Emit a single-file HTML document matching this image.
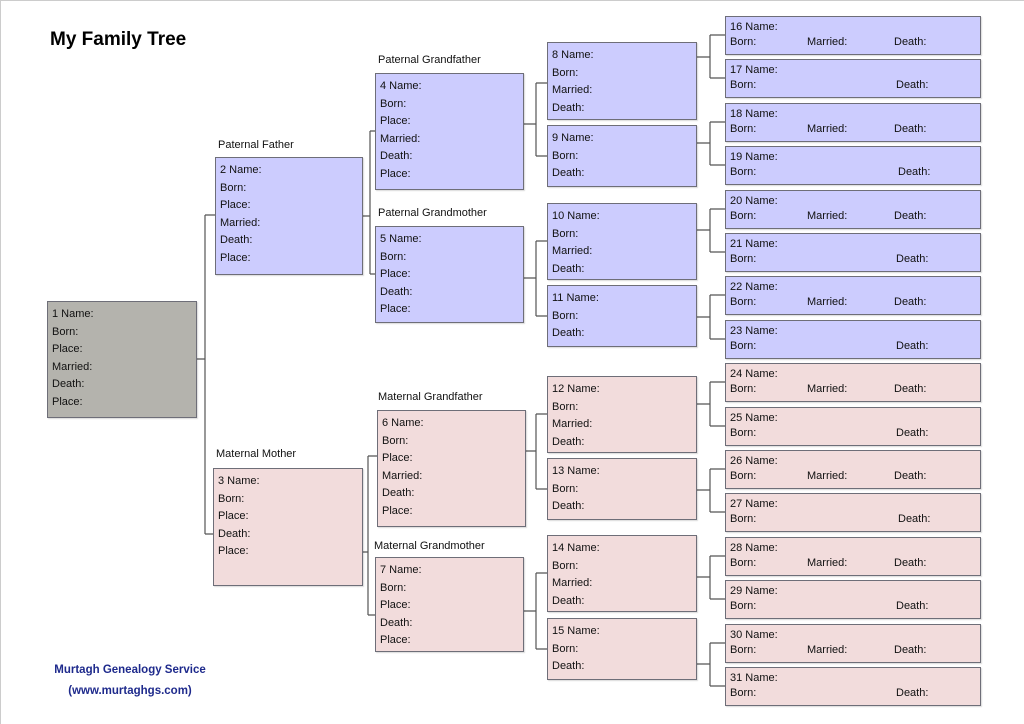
<!DOCTYPE html>
<html><head><meta charset="utf-8"><style>
html,body{margin:0;padding:0;background:#fff;}
#pg{position:relative;width:1024px;height:724px;overflow:hidden;font-family:"Liberation Sans",sans-serif;color:#111;}
.b{position:absolute;box-sizing:border-box;border:1px solid #6e6e78;font-size:11px;padding:4px 0 0 4px;line-height:17.6px;box-shadow:1px 1px 1px rgba(0,0,0,0.15);}
.bl{background:#ccccfe;}
.pk{background:#f2dcdc;}
.gr{background:#b4b3ad;}
.s{position:absolute;left:725px;width:256px;height:39px;box-sizing:border-box;border:1px solid #6e6e78;font-size:11px;line-height:15px;padding:3px 0 0 4px;box-shadow:1px 1px 1px rgba(0,0,0,0.15);}
.s span{position:absolute;top:18px;}
.lab{position:absolute;font-size:11px;}
svg{position:absolute;left:0;top:0;}
</style></head><body><div id="pg">
<div style="position:absolute;left:0;top:0;width:1024px;height:1px;background:#ccc"></div>
<div style="position:absolute;left:0;top:0;width:1px;height:724px;background:#ccc"></div>
<svg width="1024" height="724"><g stroke="#555" stroke-width="1.2" fill="none">
<path d="M196 359H205M205 215V534M205 215H215M205 534H213"/>
<path d="M362 216H370M370 131V274M370 131H375M370 274H375"/>
<path d="M362 552H368M368 456V615M368 456H377M368 615H375"/>
<path d="M523 124H536M536 83V156M536 83H547M536 156H547"/>
<path d="M523 278H536M536 241V316M536 241H547M536 316H547"/>
<path d="M525 451H536M536 414V489M536 414H547M536 489H547"/>
<path d="M523 611H536M536 573V649M536 573H547M536 649H547"/>
<path d="M696 57H710M710 35V78M710 35H725M710 78H725"/>
<path d="M696 143H710M710 122V165M710 122H725M710 165H725"/>
<path d="M696 230H710M710 209V252M710 209H725M710 252H725"/>
<path d="M696 317H710M710 295V339M710 295H725M710 339H725"/>
<path d="M696 404H710M710 382V426M710 382H725M710 426H725"/>
<path d="M696 490H710M710 469V512M710 469H725M710 512H725"/>
<path d="M696 577H710M710 556V599M710 556H725M710 599H725"/>
<path d="M696 664H710M710 643V686M710 643H725M710 686H725"/>
</g></svg>
<div style="position:absolute;left:50px;top:29px;font-size:19px;font-weight:bold;color:#000;">My Family Tree</div>
<div class="b gr" style="left:47px;top:301px;width:150px;height:117px;">1 Name:<br>Born:<br>Place:<br>Married:<br>Death:<br>Place:</div>
<div class="lab" style="left:218px;top:139px;">Paternal Father</div>
<div class="b bl" style="left:215px;top:157px;width:148px;height:118px;">2 Name:<br>Born:<br>Place:<br>Married:<br>Death:<br>Place:</div>
<div class="lab" style="left:216px;top:448px;">Maternal Mother</div>
<div class="b pk" style="left:213px;top:468px;width:150px;height:118px;">3 Name:<br>Born:<br>Place:<br>Death:<br>Place:</div>
<div class="lab" style="left:378px;top:54px;">Paternal Grandfather</div>
<div class="b bl" style="left:375px;top:73px;width:149px;height:117px;">4 Name:<br>Born:<br>Place:<br>Married:<br>Death:<br>Place:</div>
<div class="lab" style="left:378px;top:207px;">Paternal Grandmother</div>
<div class="b bl" style="left:375px;top:226px;width:149px;height:97px;">5 Name:<br>Born:<br>Place:<br>Death:<br>Place:</div>
<div class="lab" style="left:378px;top:391px;">Maternal Grandfather</div>
<div class="b pk" style="left:377px;top:410px;width:149px;height:117px;">6 Name:<br>Born:<br>Place:<br>Married:<br>Death:<br>Place:</div>
<div class="lab" style="left:374px;top:540px;">Maternal Grandmother</div>
<div class="b pk" style="left:375px;top:557px;width:149px;height:95px;">7 Name:<br>Born:<br>Place:<br>Death:<br>Place:</div>
<div class="b bl" style="left:547px;top:42px;width:150px;height:78px;">8 Name:<br>Born:<br>Married:<br>Death:</div>
<div class="b bl" style="left:547px;top:125px;width:150px;height:62px;">9 Name:<br>Born:<br>Death:</div>
<div class="b bl" style="left:547px;top:203px;width:150px;height:77px;">10 Name:<br>Born:<br>Married:<br>Death:</div>
<div class="b bl" style="left:547px;top:285px;width:150px;height:62px;">11 Name:<br>Born:<br>Death:</div>
<div class="b pk" style="left:547px;top:376px;width:150px;height:77px;">12 Name:<br>Born:<br>Married:<br>Death:</div>
<div class="b pk" style="left:547px;top:458px;width:150px;height:62px;">13 Name:<br>Born:<br>Death:</div>
<div class="b pk" style="left:547px;top:535px;width:150px;height:77px;">14 Name:<br>Born:<br>Married:<br>Death:</div>
<div class="b pk" style="left:547px;top:618px;width:150px;height:62px;">15 Name:<br>Born:<br>Death:</div>
<div class="s bl" style="top:16px;">16 Name:<span style="left:4px">Born:</span><span style="left:81px">Married:</span><span style="left:168px">Death:</span></div>
<div class="s bl" style="top:59px;">17 Name:<span style="left:4px">Born:</span><span style="left:170px">Death:</span></div>
<div class="s bl" style="top:103px;">18 Name:<span style="left:4px">Born:</span><span style="left:81px">Married:</span><span style="left:168px">Death:</span></div>
<div class="s bl" style="top:146px;">19 Name:<span style="left:4px">Born:</span><span style="left:172px">Death:</span></div>
<div class="s bl" style="top:190px;">20 Name:<span style="left:4px">Born:</span><span style="left:81px">Married:</span><span style="left:168px">Death:</span></div>
<div class="s bl" style="top:233px;">21 Name:<span style="left:4px">Born:</span><span style="left:170px">Death:</span></div>
<div class="s bl" style="top:276px;">22 Name:<span style="left:4px">Born:</span><span style="left:81px">Married:</span><span style="left:168px">Death:</span></div>
<div class="s bl" style="top:320px;">23 Name:<span style="left:4px">Born:</span><span style="left:170px">Death:</span></div>
<div class="s pk" style="top:363px;">24 Name:<span style="left:4px">Born:</span><span style="left:81px">Married:</span><span style="left:168px">Death:</span></div>
<div class="s pk" style="top:407px;">25 Name:<span style="left:4px">Born:</span><span style="left:170px">Death:</span></div>
<div class="s pk" style="top:450px;">26 Name:<span style="left:4px">Born:</span><span style="left:81px">Married:</span><span style="left:168px">Death:</span></div>
<div class="s pk" style="top:493px;">27 Name:<span style="left:4px">Born:</span><span style="left:172px">Death:</span></div>
<div class="s pk" style="top:537px;">28 Name:<span style="left:4px">Born:</span><span style="left:81px">Married:</span><span style="left:168px">Death:</span></div>
<div class="s pk" style="top:580px;">29 Name:<span style="left:4px">Born:</span><span style="left:170px">Death:</span></div>
<div class="s pk" style="top:624px;">30 Name:<span style="left:4px">Born:</span><span style="left:81px">Married:</span><span style="left:168px">Death:</span></div>
<div class="s pk" style="top:667px;">31 Name:<span style="left:4px">Born:</span><span style="left:170px">Death:</span></div>
<div style="position:absolute;left:30px;width:200px;top:660px;text-align:center;font-size:11.5px;font-weight:bold;color:#1e2a8c;line-height:21px;">Murtagh Genealogy Service<br>(www.murtaghgs.com)</div>
</div></body></html>
